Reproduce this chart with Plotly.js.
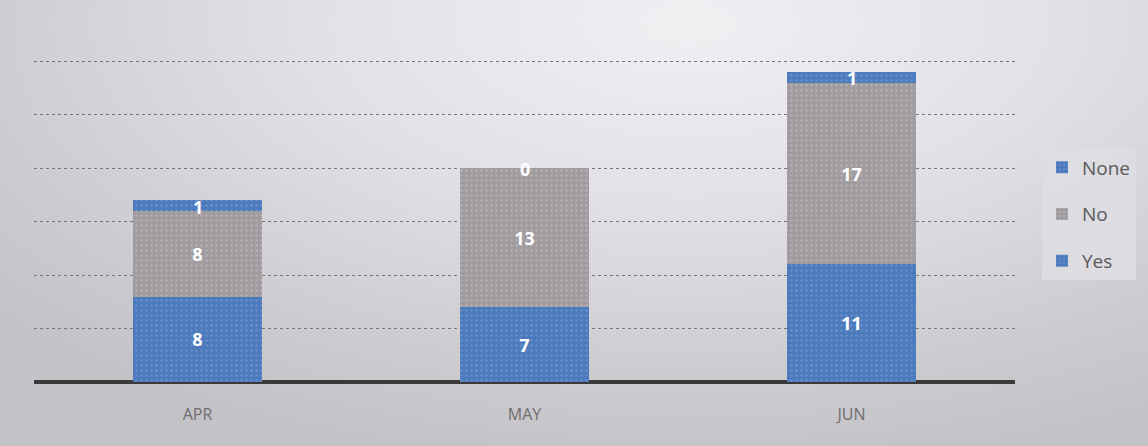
<!DOCTYPE html>
<html>
<head>
<meta charset="utf-8">
<script src="https://cdn.plot.ly/plotly-3.0.1.min.js"></script>
<style>
  html, body { margin: 0; padding: 0; }
  body {
    width: 1148px; height: 446px; overflow: hidden;
    background: radial-gradient(ellipse 80% 100% at 60% 5%, #f0f0f3 0%, #e2e1e6 40%, #cdccd1 78%, #c3c2c7 100%);
  }
  #chart { width: 1148px; height: 446px; }
</style>
</head>
<body>
<div id="chart"></div>
<script>
const months = ["APR", "MAY", "JUN"];
const yesValues = [8, 7, 11];
const noValues = [8, 13, 17];
const noneValues = [1, 0, 1];

const blue = "#4b7abd";
const grey = "#a09b9e";

function pat(bg, fg) {
  return { shape: ".", bgcolor: bg, fgcolor: fg, size: 5, solidity: 0.2, fillmode: "replace" };
}

const labelFont = { color: "#ffffff", size: 18, family: "Open Sans", weight: "bold" };

const traces = [
  {
    type: "bar", name: "Yes", x: months, y: yesValues,
    marker: { color: blue, pattern: pat(blue, "#6a8fca") },
    text: yesValues.map(String), textposition: "inside", insidetextanchor: "middle",
    textfont: labelFont, legendgroup: "c", legendrank: 3, hoverinfo: "skip"
  },
  {
    type: "bar", name: "No", x: months, y: noValues,
    marker: { color: grey, pattern: pat(grey, "#b5b0b3") },
    text: noValues.map(String), textposition: "inside", insidetextanchor: "middle",
    textfont: labelFont, legendgroup: "b", legendrank: 2, hoverinfo: "skip"
  },
  {
    type: "bar", name: "None", x: months, y: noneValues,
    marker: { color: blue, pattern: pat(blue, "#6a8fca") },
    textposition: "none", legendgroup: "a", legendrank: 1, hoverinfo: "skip"
  }
];

const annotations = months.map((m, i) => ({
  x: m, y: yesValues[i] + noValues[i] + noneValues[i] / 2,
  xref: "x", yref: "y", text: String(noneValues[i]), showarrow: false,
  font: labelFont, yshift: -1
}));

const layout = {
  width: 1148, height: 446,
  paper_bgcolor: "rgba(0,0,0,0)", plot_bgcolor: "rgba(0,0,0,0)",
  margin: { l: 34, r: 133, t: 8, b: 64 },
  barmode: "stack", bargap: 0.605,
  showlegend: true,
  legend: {
    x: 1.0275, xanchor: "left", y: 0.448, yanchor: "middle",
    xref: "paper", yref: "paper",
    bgcolor: "rgba(222,221,226,0.9)", borderwidth: 0,
    traceorder: "grouped", tracegroupgap: 19,
    font: { family: "Open Sans", size: 19, color: "#5a5a5a" },
    itemwidth: 30
  },
  xaxis: {
    type: "category", showgrid: false, zeroline: false,
    showline: false, ticks: "",
    tickfont: { family: "Open Sans", size: 16, color: "#6e6e6e" },
    ticklabelstandoff: 21
  },
  yaxis: {
    range: [0, 35], dtick: 5, showticklabels: false,
    showgrid: true, gridcolor: "#777777", griddash: "dot", gridwidth: 1,
    zeroline: true, zerolinecolor: "#3a3a3a", zerolinewidth: 4,
    showline: false, ticks: ""
  },
  annotations: annotations
};

Plotly.newPlot("chart", traces, layout, { staticPlot: true, displayModeBar: false });
</script>
</body>
</html>
